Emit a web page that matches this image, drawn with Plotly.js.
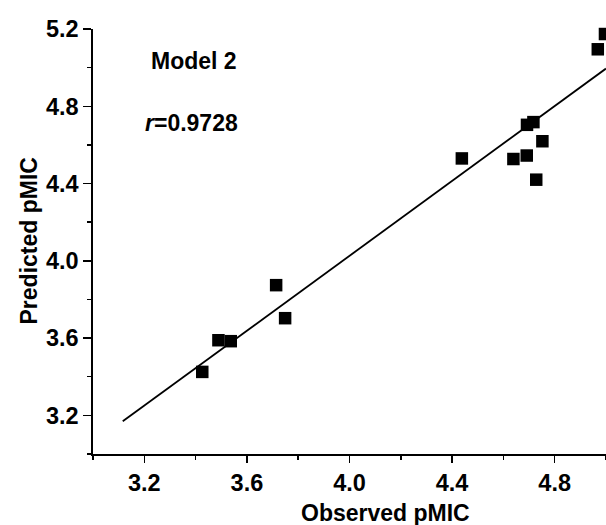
<!DOCTYPE html>
<html>
<head>
<meta charset="utf-8">
<script src="https://cdn.plot.ly/plotly-3.0.1.min.js"></script>
<style>html,body{margin:0;padding:0;background:#fff;overflow:hidden}</style>
</head>
<body>
<div id="chart" style="width:606px;height:525px"></div>
<script>
// Observed vs predicted pMIC (Model 2)
const observed  = [3.426, 3.489, 3.537, 3.714, 3.749, 4.438, 4.639, 4.691, 4.692, 4.717, 4.728, 4.752, 4.968, 4.996];
const predicted = [3.425, 3.589, 3.584, 3.874, 3.703, 4.530, 4.527, 4.545, 4.704, 4.718, 4.420, 4.619, 5.095, 5.174];
// Regression line end points
const fitX = [3.116, 5.0];
const fitY = [3.169, 4.995];
const modelLabel = "Model 2";
const rLabel = "<i>r</i>=0.9728";
const xTitle = "Observed pMIC";
const yTitle = "Predicted pMIC";

const font = {family: "Liberation Sans, Arial, sans-serif", size: 23, color: "#000", weight: 700};
const tickFont = {family: "Liberation Sans, Arial, sans-serif", size: 23.5, color: "#000", weight: 700};

const traces = [
  {x: fitX, y: fitY, mode: "lines", type: "scatter", line: {color: "#000", width: 1.8}, hoverinfo: "skip", cliponaxis: true},
  {x: observed, y: predicted, mode: "markers", type: "scatter",
   marker: {symbol: "square", size: 12.5, color: "#000", line: {width: 0}}, cliponaxis: false}
];

const L = 93, W = 513;
const layout = {
  width: 606, height: 525,
  margin: {l: L, r: 0, t: 29, b: 71},
  paper_bgcolor: "#fff", plot_bgcolor: "#fff",
  showlegend: false,
  font: font,
  xaxis: {
    range: [3.0, 5.0], showgrid: false, zeroline: false,
    showline: true, linecolor: "#000", linewidth: 1.7,
    ticks: "outside", tickmode: "linear", tick0: 3.2, dtick: 0.4, ticklen: 7, tickwidth: 1.5, tickcolor: "#000",
    tickformat: ".1f", tickfont: tickFont,
    minor: {ticks: "outside", tickmode: "linear", tick0: 3.0, dtick: 0.2, ticklen: 4, tickwidth: 1.5, tickcolor: "#000", showgrid: false}
  },
  yaxis: {
    range: [3.0, 5.2], showgrid: false, zeroline: false,
    showline: true, linecolor: "#000", linewidth: 1.7,
    ticks: "outside", tickmode: "linear", tick0: 3.2, dtick: 0.4, ticklen: 8, tickwidth: 1.5, tickcolor: "#000",
    tickformat: ".1f", tickfont: tickFont,
    minor: {ticks: "outside", tickmode: "linear", tick0: 3.0, dtick: 0.2, ticklen: 4, tickwidth: 1.5, tickcolor: "#000", showgrid: false}
  },
  annotations: [
    {text: modelLabel, xref: "paper", yref: "paper", x: (194 - L) / W, y: 1 - (61.5 - 29) / 425, xanchor: "center", yanchor: "middle", showarrow: false, font: font},
    {text: rLabel, xref: "paper", yref: "paper", x: (191 - L) / W, y: 1 - (123 - 29) / 425, xanchor: "center", yanchor: "middle", showarrow: false, font: font},
    {text: xTitle, xref: "paper", yref: "paper", x: (385 - L) / W, y: -(513 - 454) / 425, xanchor: "center", yanchor: "middle", showarrow: false, font: font},
    {text: yTitle, xref: "paper", yref: "paper", x: (28 - L) / W, y: 0.5, xanchor: "center", yanchor: "middle", textangle: -90, showarrow: false, font: font}
  ]
};

Plotly.newPlot("chart", traces, layout, {displayModeBar: false, staticPlot: true});
</script>
</body>
</html>
